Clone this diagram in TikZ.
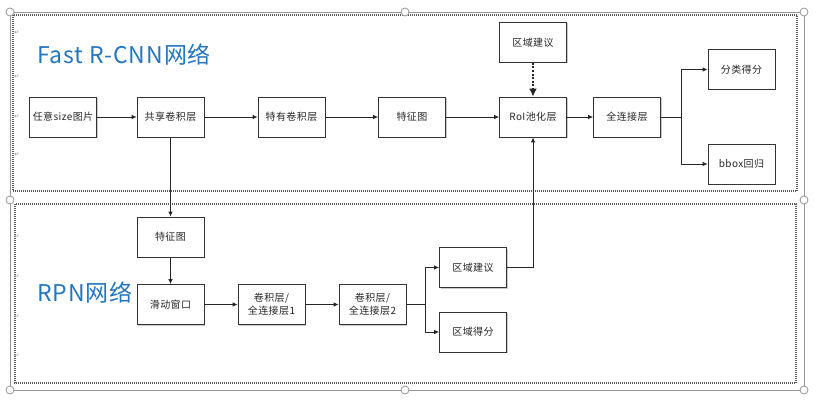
\documentclass[tikz,border=0pt]{standalone}
\usepackage{fontspec}
\setmainfont{Noto Sans CJK SC}
\newfontfamily\symfont{DejaVu Sans}
\newfontfamily\titlefont[LetterSpace=4]{Noto Sans CJK SC}
\newfontfamily\boxfont[LetterSpace=4]{Noto Sans CJK SC}
\usetikzlibrary{arrows.meta,shadows}
\definecolor{titleblue}{RGB}{36,118,192}
\definecolor{framegray}{RGB}{150,150,150}
\definecolor{dotgray}{RGB}{90,90,90}
\tikzset{
  box/.style={draw=black!80, line width=0.8pt, fill=white, minimum width=67pt, minimum height=40pt,
    inner sep=0pt, align=center, font=\boxfont\fontsize{10}{13}\selectfont, text=black!85,
    drop shadow={shadow xshift=1pt, shadow yshift=-1pt, fill=black!35, opacity=0.6}},
  arr/.style={draw=black!85, line width=0.8pt, -{Latex[length=5pt,width=4.5pt]}},
  dotarr/.style={draw=black!85, line width=2pt, dash pattern=on 2pt off 1.6pt, -{Latex[length=8pt,width=8pt]}},
  groupbox/.style={draw=dotgray, line width=1.4pt, dash pattern=on 1pt off 1pt},
  selframe/.style={draw=framegray, line width=0.8pt},
  handle/.style={circle, draw=framegray, fill=white, line width=0.8pt, minimum size=8pt, inner sep=0pt},
  pmark/.style={font=\symfont\fontsize{6}{6}\selectfont, text=black!45, inner sep=0pt},
  title/.style={font=\titlefont\fontsize{23}{26}\selectfont, text=titleblue, inner sep=0pt, anchor=west}
}
\begin{document}
\begin{tikzpicture}[x=1pt,y=-1pt]
\useasboundingbox (0,0) rectangle (819,401);
\fill[white] (0,0) rectangle (819,401);
% selection frame
\draw[selframe] (10,12) rectangle (804,390);
% group boxes
\draw[groupbox] (13,15) rectangle (797,191);
\draw[groupbox] (15,204) rectangle (796,383);
% handles
\foreach \hx/\hy [count=\i] in {10/12,405/12,804/12,10/200,804/200,10/390,405/390,804/390}
  \node[handle] (h\i) at (\hx,\hy) {};
% paragraph marks
\foreach \py [count=\i] in {33,77,117,155,237,277,317,356}
  \node[pmark] (pm\i) at (17,\py) {↵};
% titles
\node[title] (t1) at (37,55) {Fast R-CNN网络};
\node[title] (t2) at (37,293) {RPN网络};
% top row
\node[box] (img) at (63,117) {任意size图片};
\node[box] (share) at (170.5,117) {共享卷积层};
\node[box] (own) at (291.5,117) {特有卷积层};
\node[box] (fm1) at (412,117) {特征图};
\node[box] (roi) at (533,117) {RoI池化层};
\node[box] (fc) at (627,117) {全连接层};
\node[box] (rp1) at (533,42.5) {区域建议};
\node[box] (cls) at (741.5,69.5) {分类得分};
\node[box] (bbox) at (741.5,164) {bbox回归};
% bottom row
\node[box] (fm2) at (170.5,237) {特征图};
\node[box] (slide) at (170.5,304.5) {滑动窗口};
\node[box] (conv1) at (271.5,304.5) {卷积层/\\全连接层1};
\node[box] (conv2) at (372.5,304.5) {卷积层/\\全连接层2};
\node[box] (rp2) at (473,267.5) {区域建议};
\node[box] (rs) at (473,332) {区域得分};
% connectors
\draw[arr] (img) -- (share);
\draw[arr] (share) -- (own);
\draw[arr] (own) -- (fm1);
\draw[arr] (fm1) -- (roi);
\draw[arr] (roi) -- (fc);
\draw[arr] (fc.east) -- ++(20,0) |- (cls.west);
\draw[arr] (fc.east) -- ++(20,0) |- (bbox.west);
\draw[dotarr] (rp1.south) -- (roi.north);
\draw[arr] (share.south) -- (fm2.north);
\draw[arr] (fm2.south) -- (slide.north);
\draw[arr] (slide) -- (conv1);
\draw[arr] (conv1) -- (conv2);
\draw[arr] (conv2.east) -- ++(19,0) |- (rp2.west);
\draw[arr] (conv2.east) -- ++(19,0) |- (rs.west);
\draw[arr] (rp2.east) -| (roi.south);
\end{tikzpicture}
\end{document}
